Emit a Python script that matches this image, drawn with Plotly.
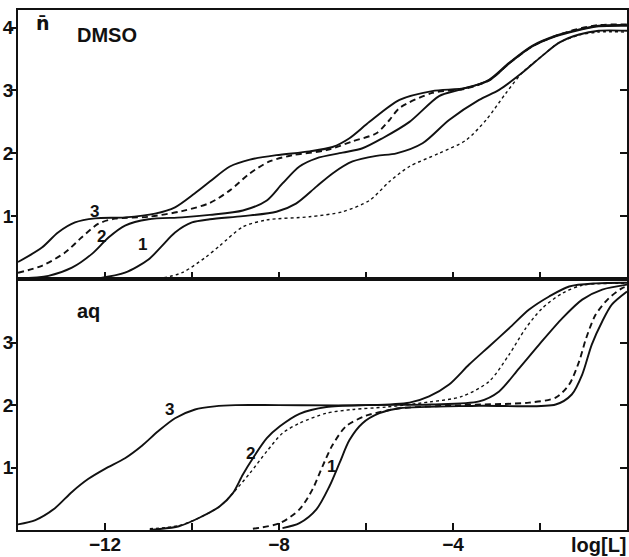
import plotly.graph_objects as go

# ---------------- DMSO panel (top) ----------------
dmso_3_x = [-14.0, -13.45, -13.08, -12.69, -12.23, -11.54, -10.85, -10.39, -9.94, -9.59, -9.13, -8.67, -8.06, -7.3, -6.77, -6.38, -5.92, -5.23, -4.48, -3.7, -3.17, -2.71, -2.18, -1.64, -1.17, -0.65, 0.0]
dmso_3_y = [0.27, 0.5, 0.74, 0.9, 0.965, 0.98, 1.04, 1.14, 1.36, 1.55, 1.79, 1.9, 1.97, 2.03, 2.1, 2.24, 2.5, 2.85, 2.99, 3.04, 3.17, 3.44, 3.71, 3.87, 3.96, 4.03, 4.04]

dmso_d_x = [-14.0, -13.45, -12.92, -12.54, -12.15, -11.77, -11.0, -10.23, -9.59, -9.13, -8.67, -8.22, -7.69, -6.91, -6.31, -5.76, -5.46, -5.23, -4.48, -3.7, -3.17, -2.71, -2.18, -1.64, -1.17, -0.65, 0.0]
dmso_d_y = [0.1, 0.21, 0.42, 0.66, 0.88, 0.96, 0.99, 1.08, 1.21, 1.41, 1.68, 1.87, 1.97, 2.05, 2.19, 2.32, 2.53, 2.72, 2.96, 3.03, 3.16, 3.43, 3.7, 3.87, 3.97, 4.04, 4.05]

dmso_2_x = [-14.0, -13.3, -12.76, -12.3, -11.92, -11.54, -11.0, -10.23, -9.59, -8.83, -8.28, -7.92, -7.53, -7.14, -6.54, -6.08, -5.62, -5.0, -4.32, -3.86, -3.17, -2.71, -2.18, -1.64, -1.17, -0.65, 0.0]
dmso_2_y = [0.01, 0.05, 0.18, 0.4, 0.66, 0.85, 0.95, 0.98, 1.02, 1.09, 1.25, 1.52, 1.79, 1.92, 2.01, 2.08, 2.24, 2.5, 2.91, 3.01, 3.16, 3.43, 3.7, 3.86, 3.95, 4.02, 4.03]

dmso_1_x = [-12.15, -11.54, -11.0, -10.7, -10.39, -10.0, -9.59, -8.83, -8.06, -7.61, -7.14, -6.77, -6.31, -5.76, -5.3, -4.7, -4.09, -3.4, -2.94, -2.41, -1.95, -1.56, -1.1, -0.65, 0.0]
dmso_1_y = [0.01, 0.1, 0.31, 0.52, 0.74, 0.9, 0.95, 1.0, 1.07, 1.2, 1.47, 1.68, 1.87, 1.96, 2.0, 2.16, 2.53, 2.85, 3.01, 3.28, 3.55, 3.76, 3.89, 3.95, 3.95]

dmso_p_x = [-10.78, -10.23, -9.7, -9.36, -8.83, -8.28, -7.3, -6.54, -5.92, -5.46, -5.0, -4.32, -3.7, -3.24, -2.78, -2.41, -1.95, -1.56, -1.1, -0.65, 0.0]
dmso_p_y = [0.0, 0.1, 0.34, 0.53, 0.83, 0.94, 0.99, 1.07, 1.25, 1.55, 1.79, 2.0, 2.21, 2.53, 2.96, 3.28, 3.55, 3.76, 3.88, 3.93, 3.93]

# ---------------- aq panel (bottom) ----------------
aq_3_x = [-14.0, -13.6, -13.15, -12.76, -12.38, -12.0, -11.54, -11.15, -10.78, -10.39, -9.93, -9.48, -9.0, -8.0, -6.0, -5.0, -4.55, -4.09, -3.63, -3.17, -2.71, -2.25, -1.79, -1.33, -0.72, 0.0]
aq_3_y = [0.09, 0.16, 0.35, 0.61, 0.82, 0.98, 1.15, 1.35, 1.58, 1.79, 1.93, 1.98, 2.0, 2.0, 2.0, 2.04, 2.14, 2.33, 2.65, 2.94, 3.23, 3.53, 3.74, 3.9, 3.95, 3.96]

aq_2_x = [-10.97, -10.3, -9.82, -9.36, -9.06, -8.83, -8.6, -8.28, -7.98, -7.53, -6.91, -6.0, -4.5, -3.4, -2.94, -2.48, -2.02, -1.49, -1.03, -0.57, 0.0]
aq_2_y = [0.0, 0.06, 0.2, 0.38, 0.59, 0.89, 1.15, 1.47, 1.66, 1.86, 1.97, 2.0, 2.01, 2.06, 2.22, 2.59, 2.97, 3.39, 3.69, 3.85, 3.93]

aq_p_x = [-10.97, -10.3, -9.82, -9.36, -9.06, -8.67, -8.28, -7.92, -7.53, -6.91, -6.31, -5.53, -4.55, -3.79, -3.17, -2.71, -2.33, -1.95, -1.49, -1.03, -0.4, 0.0]
aq_p_y = [0.02, 0.07, 0.2, 0.38, 0.59, 0.91, 1.26, 1.55, 1.71, 1.87, 1.93, 1.97, 2.05, 2.14, 2.38, 2.81, 3.23, 3.55, 3.79, 3.92, 3.95, 3.95]

aq_d_x = [-8.6, -7.98, -7.53, -7.23, -7.0, -6.77, -6.46, -6.0, -5.53, -5.23, -3.79, -2.25, -1.64, -1.33, -1.1, -0.94, -0.72, -0.42, -0.12, 0.0]
aq_d_y = [0.02, 0.11, 0.33, 0.65, 1.02, 1.36, 1.66, 1.83, 1.91, 1.95, 2.0, 2.04, 2.12, 2.33, 2.7, 3.07, 3.45, 3.71, 3.87, 3.9]

aq_1_x = [-7.92, -7.53, -7.14, -6.84, -6.61, -6.38, -6.08, -5.69, -5.23, -3.4, -1.64, -1.27, -1.03, -0.81, -0.57, -0.35, 0.0]
aq_1_y = [0.03, 0.11, 0.33, 0.7, 1.07, 1.44, 1.71, 1.87, 1.95, 1.99, 2.01, 2.17, 2.49, 2.97, 3.34, 3.61, 3.82]

x_ticks = [-12, -10, -8, -6, -4, -2]
x_ticktext = ["\u221212", "", "\u22128", "", "\u22124", ""]
top_yticks = [1, 2, 3, 4]
bot_yticks = [1, 2, 3]
right_yticks = [1, 2, 3]

FONT = "Liberation Sans, Arial, Helvetica, sans-serif"
BLACK = "#111111"

fig = go.Figure()

def add(x, y, xa, ya, dash="solid", width=1.9):
    fig.add_trace(go.Scatter(x=x, y=y, xaxis=xa, yaxis=ya, mode="lines",
                             line=dict(color=BLACK, width=width, dash=dash, shape="spline", smoothing=0.8),
                             showlegend=False, hoverinfo="skip"))

# top panel
add(dmso_p_x, dmso_p_y, "x2", "y2", dash="dot", width=1.4)
add(dmso_1_x, dmso_1_y, "x2", "y2")
add(dmso_2_x, dmso_2_y, "x2", "y2")
add(dmso_d_x, dmso_d_y, "x2", "y2", dash="6px,4px", width=1.9)
add(dmso_3_x, dmso_3_y, "x2", "y2")
# bottom panel
add(aq_p_x, aq_p_y, "x", "y", dash="dot", width=1.4)
add(aq_3_x, aq_3_y, "x", "y")
add(aq_2_x, aq_2_y, "x", "y")
add(aq_d_x, aq_d_y, "x", "y", dash="6px,4px", width=1.9)
add(aq_1_x, aq_1_y, "x", "y")

split = 0.4827
axis_common = dict(showline=True, linecolor=BLACK, linewidth=2, showgrid=False, zeroline=False,
                   tickwidth=2, tickcolor=BLACK, automargin=False)
tickfont = dict(family=FONT, size=19, color=BLACK, weight="bold")

fig.update_layout(
    width=629, height=557,
    margin=dict(l=18, r=2, t=10, b=27, autoexpand=False),
    paper_bgcolor="white", plot_bgcolor="white",
    xaxis=dict(domain=[0, 1], anchor="y", range=[-14, 0], tickmode="array", tickvals=x_ticks,
               ticktext=x_ticktext, ticks="inside", ticklen=7, ticklabelstandoff=-4, mirror=True,
               tickfont=tickfont, **axis_common),
    yaxis=dict(domain=[0, split], anchor="x", range=[0, 4.02], tickmode="array", tickvals=bot_yticks,
               ticktext=[str(v) for v in bot_yticks], ticks="outside", ticklen=5, ticklabelstandoff=-6,
               mirror=True, tickfont=tickfont, **axis_common),
    xaxis2=dict(domain=[0, 1], anchor="y2", range=[-14, 0], tickmode="array", tickvals=x_ticks,
                showticklabels=False, ticks="inside", ticklen=7, mirror=True, **axis_common),
    yaxis2=dict(domain=[split, 1], anchor="x2", range=[0, 4.28], tickmode="array", tickvals=top_yticks,
                ticktext=[str(v) for v in top_yticks], ticks="outside", ticklen=5, ticklabelstandoff=-6,
                mirror=True, tickfont=tickfont, **axis_common),
    yaxis3=dict(overlaying="y", side="right", anchor="x", range=[0, 4.02], tickmode="array",
                tickvals=right_yticks, showticklabels=False, ticks="inside", showgrid=False, zeroline=False,
                showline=False, ticklen=7, tickwidth=2, tickcolor=BLACK, automargin=False),
    yaxis4=dict(overlaying="y2", side="right", anchor="x2", range=[0, 4.28], tickmode="array",
                tickvals=right_yticks, showticklabels=False, ticks="inside", showgrid=False, zeroline=False,
                showline=False, ticklen=7, tickwidth=2, tickcolor=BLACK, automargin=False),
)

# empty traces so the right-side tick axes are drawn
fig.add_trace(go.Scatter(x=[None], y=[None], xaxis="x", yaxis="y3", showlegend=False, hoverinfo="skip"))
fig.add_trace(go.Scatter(x=[None], y=[None], xaxis="x2", yaxis="y4", showlegend=False, hoverinfo="skip"))

lab_font = dict(family=FONT, size=17, color=BLACK, weight="bold")
big_font = dict(family=FONT, size=20, color=BLACK, weight="bold")

annots = [
    dict(x=-12.25, y=1.08, xref="x2", yref="y2", text="3", font=lab_font, xanchor="center"),
    dict(x=-12.09, y=0.67, xref="x2", yref="y2", text="2", font=lab_font, xanchor="center"),
    dict(x=-11.13, y=0.55, xref="x2", yref="y2", text="1", font=lab_font, xanchor="center"),
    dict(x=-11.95, y=3.88, xref="x2", yref="y2", text="DMSO", font=big_font, xanchor="center"),
    dict(x=-13.42, y=4.07, xref="x2", yref="y2", text="n\u0304",
         font=dict(family="DejaVu Sans", size=19, color=BLACK, weight="bold"), xanchor="center"),
    dict(x=-10.51, y=1.93, xref="x", yref="y", text="3", font=lab_font, xanchor="center"),
    dict(x=-8.66, y=1.22, xref="x", yref="y", text="2", font=lab_font, xanchor="center"),
    dict(x=-6.8, y=1.02, xref="x", yref="y", text="1", font=lab_font, xanchor="center"),
    dict(x=-12.39, y=3.5, xref="x", yref="y", text="aq", font=big_font, xanchor="center"),
    dict(x=1.003, y=-0.029, xref="paper", yref="paper", text="log[L]", font=big_font, xanchor="right"),
]
for a in annots:
    fig.add_annotation(showarrow=False, yanchor="middle", **a)

fig.write_html("out.html", config={"displayModeBar": False},
               post_script="document.body.style.margin='0';document.body.style.overflow='hidden';")
